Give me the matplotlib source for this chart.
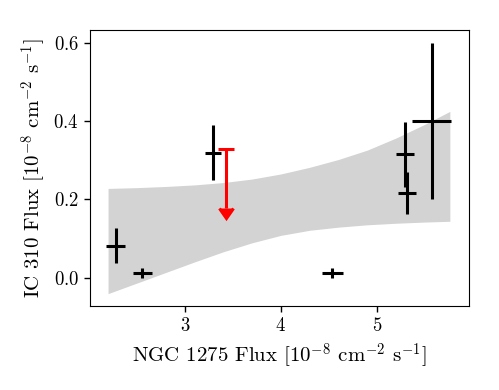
import numpy as np
import matplotlib
matplotlib.use("Agg")
import matplotlib.pyplot as plt
from matplotlib.markers import CARETDOWNBASE

plt.rcParams['font.family'] = 'serif'
plt.rcParams['font.serif'] = ['cmr10', 'DejaVu Serif']
plt.rcParams['mathtext.fontset'] = 'cm'
plt.rcParams['axes.formatter.use_mathtext'] = True

# detections: NGC 1275 flux (x) vs IC 310 flux (y)
x_flux = [2.28, 2.555, 3.295, 4.534, 5.292, 5.316, 5.57]
x_err = [0.10, 0.10, 0.083, 0.11, 0.094, 0.094, 0.205]
y_flux = [0.082, 0.012, 0.319, 0.012, 0.315, 0.216, 0.401]
y_err = [0.045, 0.013, 0.070, 0.013, 0.084, 0.053, 0.200]

# upper limit
ul_x = [3.427]
ul_y = [0.330]
ul_len = [0.151]

# fit band
band_x = [2.20, 2.50, 2.80, 3.10, 3.40, 3.70, 4.00, 4.30, 4.60, 4.90, 5.20, 5.50, 5.76]
band_hi = [0.228, 0.230, 0.233, 0.237, 0.243, 0.252, 0.265, 0.282, 0.302, 0.326, 0.357, 0.392, 0.425]
band_lo = [-0.041, -0.014, 0.013, 0.040, 0.066, 0.089, 0.108, 0.121, 0.129, 0.135, 0.139, 0.142, 0.144]

fig = plt.figure(figsize=(4.99, 3.9), dpi=100)
ax = fig.add_axes([0.180, 0.215, 0.760, 0.708])

ax.fill_between(band_x, band_lo, band_hi, color='lightgray', lw=0, zorder=1)
ax.errorbar(x_flux, y_flux, xerr=x_err, yerr=y_err, fmt='none', ecolor='black',
            elinewidth=2.2, zorder=3)
ul = ax.errorbar(ul_x, ul_y, yerr=ul_len, uplims=True, fmt='none', ecolor='red',
                 color='red', elinewidth=2.2, capsize=5.8, capthick=2.2, zorder=2)
for cl in ul[1]:
    if cl.get_marker() == CARETDOWNBASE:
        cl.set_markersize(10)
        cl.set_markerfacecolor('red')
        cl.set_markeredgecolor('red')

ax.set_xlim(2.01, 5.96)
ax.set_ylim(-0.073, 0.633)
ax.set_xticks([3, 4, 5])
ax.set_yticks([0.0, 0.2, 0.4, 0.6])
ax.tick_params(labelsize=13.5, length=4.5, width=1)
ax.set_xlabel(r'NGC 1275 Flux [$10^{-8}$ cm$^{-2}$ s$^{-1}$]', fontsize=15)
ax.set_ylabel(r'IC 310 Flux [$10^{-8}$ cm$^{-2}$ s$^{-1}$]', fontsize=15)

fig.savefig('out.png', dpi=100)
